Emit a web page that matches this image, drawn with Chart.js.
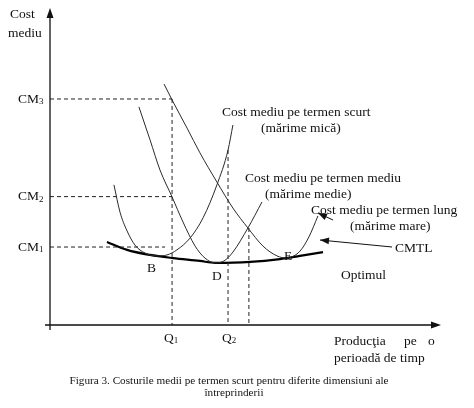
<!DOCTYPE html>
<html>
<head>
<meta charset="utf-8">
<script src="https://cdn.jsdelivr.net/npm/chart.js@4.4.1/dist/chart.umd.min.js"></script>
<style>
  html, body { margin: 0; padding: 0; background: #fff; }
  canvas { display: block; }
</style>
</head>
<body>
<canvas id="chart" width="474" height="408"></canvas>
<script>
// output on x (0..20), average cost on y (0..10)
const smallX = [3.28, 3.59, 3.95, 4.36, 4.87, 5.49, 6.00, 6.51, 7.18, 7.85, 8.56, 9.13, 9.38];
const smallY = [4.42, 3.56, 2.97, 2.52, 2.27, 2.18, 2.21, 2.37, 2.74, 3.38, 4.42, 5.52, 6.31];

const mediumX = [4.56, 5.13, 5.64, 6.26, 6.82, 7.44, 7.95, 8.46, 8.92, 9.38, 10.15, 10.87];
const mediumY = [6.88, 5.84, 4.89, 4.04, 3.25, 2.49, 2.11, 1.96, 2.02, 2.30, 3.06, 3.88];

const largeX = [5.85, 6.26, 7.03, 7.69, 8.56, 9.38, 10.15, 10.92, 11.64, 12.15, 12.41, 12.82, 13.28, 13.74];
const largeY = [7.60, 7.10, 6.21, 5.43, 4.51, 3.69, 3.06, 2.49, 2.18, 2.11, 2.15, 2.33, 2.78, 3.44];

const lrX = [2.92, 3.95, 5.13, 6.31, 7.69, 8.46, 10.26, 11.79, 12.82, 14.00];
const lrY = [2.62, 2.37, 2.21, 2.11, 2.02, 1.96, 1.99, 2.08, 2.18, 2.30];

const cmLevels = [2.46, 4.05, 7.13];      // CM1, CM2, CM3
const cmEnds = [5.9, 6.26, 6.26];         // where each dashed level stops
const qX = [6.26, 9.13, 10.2];            // Q1, Q2, unnamed third
const qTop = [7.13, 5.52, 3.06];

const pts = (xs, ys) => xs.map((x, i) => ({ x, y: ys[i] }));

const curve = (data, width) => ({
  data, borderColor: "#2a2a2a", borderWidth: width, pointRadius: 0,
  cubicInterpolationMode: "monotone", fill: false
});
const dashed = data => ({
  data, borderColor: "#222", borderWidth: 1, borderDash: [4, 3],
  pointRadius: 0, tension: 0, fill: false
});

const datasets = [];
cmLevels.forEach((y, i) => datasets.push(dashed([{ x: 0, y }, { x: cmEnds[i], y }])));
qX.forEach((x, i) => datasets.push(dashed([{ x, y: qTop[i] }, { x, y: 0 }])));
datasets.push(curve(pts(smallX, smallY), 1));
datasets.push(curve(pts(mediumX, mediumY), 1));
datasets.push(curve(pts(largeX, largeY), 1));
datasets.push(Object.assign(curve(pts(lrX, lrY), 2.2), { borderColor: "#000" }));

const SERIF = '"Liberation Serif", "Times New Roman", serif';

const labels = [
  { t: "Cost", x: 10, y: 14 },
  { t: "mediu", x: 8, y: 33 },
  { t: "Cost mediu pe termen scurt", x: 222, y: 112 },
  { t: "(mărime mică)", x: 261, y: 128 },
  { t: "Cost mediu pe termen mediu", x: 245, y: 178 },
  { t: "(mărime medie)", x: 265, y: 194 },
  { t: "Cost mediu pe termen lung", x: 311, y: 210 },
  { t: "(mărime mare)", x: 350, y: 226 },
  { t: "CMTL", x: 395, y: 248 },
  { t: "Optimul", x: 341, y: 275 },
  { t: "B", x: 147, y: 268 },
  { t: "D", x: 212, y: 276 },
  { t: "E", x: 284, y: 256 },
  { t: "Producţia", x: 334, y: 341 },
  { t: "pe", x: 404, y: 341 },
  { t: "o", x: 428, y: 341 },
  { t: "perioadă de timp", x: 334, y: 358 }
];

function subLabel(ctx, base, sub, x, y) {
  ctx.font = "13.5px " + SERIF;
  ctx.fillText(base, x, y);
  const w = ctx.measureText(base).width;
  ctx.font = "9px " + SERIF;
  ctx.fillText(sub, x + w, y + 3);
}

function arrow(ctx, x1, y1, x2, y2) {
  ctx.beginPath();
  ctx.moveTo(x1, y1);
  ctx.lineTo(x2, y2);
  ctx.stroke();
  const a = Math.atan2(y2 - y1, x2 - x1);
  ctx.beginPath();
  ctx.moveTo(x2, y2);
  ctx.lineTo(x2 - 9 * Math.cos(a) + 3.5 * Math.sin(a), y2 - 9 * Math.sin(a) - 3.5 * Math.cos(a));
  ctx.lineTo(x2 - 9 * Math.cos(a) - 3.5 * Math.sin(a), y2 - 9 * Math.sin(a) + 3.5 * Math.cos(a));
  ctx.closePath();
  ctx.fill();
}

const decorations = {
  id: "decorations",
  afterDraw(chart) {
    const ctx = chart.ctx;
    const xs = chart.scales.x, ys = chart.scales.y;
    const x0 = xs.getPixelForValue(0), y0 = ys.getPixelForValue(0);
    ctx.save();
    ctx.strokeStyle = "#111";
    ctx.fillStyle = "#111";
    ctx.lineWidth = 1.3;
    // axes
    ctx.beginPath();
    ctx.moveTo(x0, 14);
    ctx.lineTo(x0, y0 + 5);
    ctx.moveTo(x0 - 5, y0);
    ctx.lineTo(434, y0);
    ctx.stroke();
    ctx.beginPath();
    ctx.moveTo(x0, 8); ctx.lineTo(x0 - 3.5, 18); ctx.lineTo(x0 + 3.5, 18); ctx.closePath(); ctx.fill();
    ctx.beginPath();
    ctx.moveTo(441, y0); ctx.lineTo(431, y0 - 3.5); ctx.lineTo(431, y0 + 3.5); ctx.closePath(); ctx.fill();

    ctx.lineWidth = 1;
    arrow(ctx, 333, 220, 318, 213);
    arrow(ctx, 392, 247, 320, 240);

    ctx.textBaseline = "middle";
    ctx.textAlign = "left";
    ctx.font = "13.5px " + SERIF;
    labels.forEach(l => ctx.fillText(l.t, l.x, l.y));

    ["1", "2", "3"].forEach((s, i) => subLabel(ctx, "CM", s, 18, ys.getPixelForValue(cmLevels[i])));
    subLabel(ctx, "Q", "1", xs.getPixelForValue(qX[0]) - 8, 338);
    subLabel(ctx, "Q", "2", xs.getPixelForValue(qX[1]) - 6, 338);

    ctx.font = "11.2px " + SERIF;
    ctx.textAlign = "center";
    ctx.fillText("Figura 3. Costurile medii pe termen scurt pentru diferite dimensiuni ale", 229, 381);
    ctx.fillText("întreprinderii", 234, 393);
    ctx.restore();
  }
};

new Chart(document.getElementById("chart"), {
  type: "line",
  data: { datasets },
  options: {
    responsive: false,
    animation: false,
    layout: { padding: { left: 50, right: 34, top: 8, bottom: 83 } },
    plugins: { legend: { display: false }, tooltip: { enabled: false } },
    scales: {
      x: { type: "linear", min: 0, max: 20, display: false },
      y: { type: "linear", min: 0, max: 10, display: false }
    }
  },
  plugins: [decorations]
});
</script>
</body>
</html>
